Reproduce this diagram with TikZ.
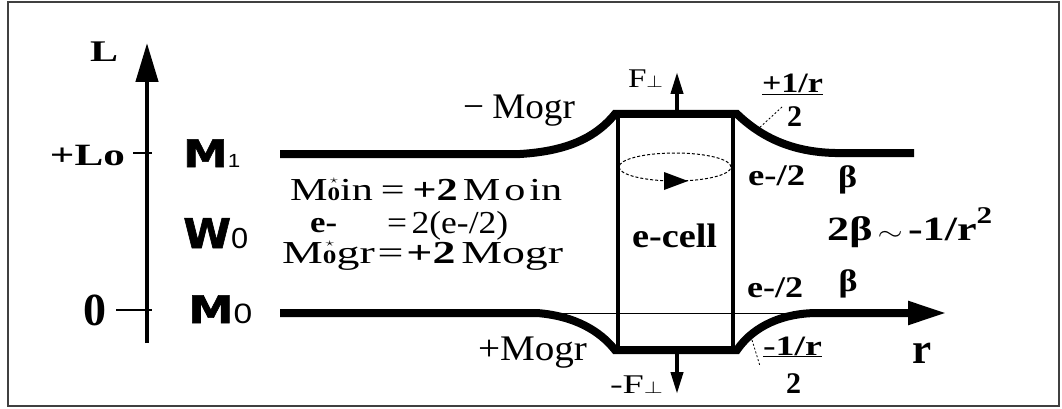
\documentclass[tikz,border=0pt]{standalone}
\usepackage{fontspec}
\usepackage{graphicx}
\setmainfont{Liberation Serif}
\newfontfamily\heavyfont{DejaVu Sans}[BoldFeatures={FakeBold=1.5}]
\newfontfamily\plainsans{Liberation Sans}
\usetikzlibrary{arrows.meta}
\newcommand{\fsz}[1]{\fontsize{#1}{#1}\selectfont}
\newcommand{\wb}[2]{\resizebox{#1pt}{\height}{#2}}
\newcommand{\starzero}{\ooalign{\hfil\raisebox{0.52em}{\fsz{13}$\star$}\hfil\cr\fsz{19}\bfseries 0\cr}}
\begin{document}
\begin{tikzpicture}[x=1pt,y=-1pt,
  txt/.style={inner sep=0pt, anchor=base},
  txtw/.style={inner sep=0pt, anchor=base west},
  level/.style={line width=8pt},
  cellwall/.style={line width=4.5pt},
  thinl/.style={line width=1pt},
  leader/.style={line width=0.8pt, dash pattern=on 2pt off 2pt},
  bigtip/.style={-{Triangle[length=39pt,width=22pt]}},
  forcetip/.style={-{Triangle[length=22pt,width=12pt]}},
]
\useasboundingbox (0,0) rectangle (1062,409);
\draw[black!75, line width=2pt] (8,2) rectangle (1059,406);

% L axis
\coordinate (Lbot) at (147,343);
\coordinate (Ltop) at (147,43);
\draw[line width=4.5pt, bigtip] (Lbot) -- (Ltop);
\coordinate (tLo) at (133,153); \coordinate (aLo) at (152,153);
\coordinate (t0) at (116,310); \coordinate (a0) at (152,310);
\draw[line width=1.5pt] (tLo) -- (aLo);
\draw[line width=1.5pt] (t0) -- (a0);

% cell
\node[draw, cellwall, minimum width=115pt, minimum height=236pt, inner sep=0pt] (cell) at (675.5,232) {};

% upper level M1
\coordinate (m1s) at (280,154);
\coordinate (m1a) at (520,154);
\coordinate (bTL) at (615,114);
\coordinate (bTR) at (737,114);
\coordinate (m1b) at (835,153);
\coordinate (m1e) at (914,153);
\draw[level] (m1s) -- (m1a) .. controls (570,151) and (597,136) .. (bTL) -- (bTR) .. controls (760,136) and (790,152) .. (m1b) -- (m1e);

% lower level M0 / r axis
\coordinate (m0s) at (280,313);
\coordinate (m0a) at (537,313);
\coordinate (bBL) at (615,350);
\coordinate (bBR) at (737,350);
\coordinate (m0b) at (815,313);
\coordinate (rtip) at (947,313);
\draw[level, bigtip] (m0s) -- (m0a) .. controls (575,316) and (600,331) .. (bBL) -- (bBR) .. controls (750,331) and (775,314) .. (m0b) -- (rtip);
\draw[thinl] (m0a) -- (m0b);

% circulation
\draw[thinl, dash pattern=on 3pt off 2pt] (675,167) ellipse [x radius=56pt, y radius=14pt];
\fill (664,172) -- (688,181) -- (664,190) -- cycle;

% forces
\coordinate (fuS) at (677,110); \coordinate (fuE) at (677,72);
\coordinate (fdS) at (677,354); \coordinate (fdE) at (677,394);
\draw[line width=4pt, forcetip] (fuS) -- (fuE);
\draw[line width=4pt, forcetip] (fdS) -- (fdE);

% leaders
\coordinate (ld1a) at (757,130); \coordinate (ld1b) at (782,107);
\coordinate (ld2a) at (752,340); \coordinate (ld2b) at (760,366);
\draw[leader] (ld1a) -- (ld1b);
\draw[leader] (ld2a) -- (ld2b);

% texts
\node[txt, font=\bfseries\fsz{30}] (lL) at (104,62) {\wb{28}{L}};
\node[txt, font=\bfseries\fsz{31}] (lLo) at (87.5,165) {\wb{75}{+Lo}};
\node[txt, font=\bfseries\fsz{46}] (l0) at (95,325) {0};
\node[txtw] (lM1) at (183,167) {\wb{57}{{\heavyfont\bfseries\fsz{38}M}{\plainsans\fsz{19}1}}};
\node[txtw] (lW0) at (183,248) {\wb{65}{{\heavyfont\bfseries\fsz{41}W}{\plainsans\fsz{29}0}}};
\node[txtw] (lM0) at (188,323) {\wb{64}{{\heavyfont\bfseries\fsz{38}M}{\plainsans\fsz{28}0}}};

\node[txtw, font=\fsz{32}] (eq1) at (290,200) {\wb{272}{M\starzero in\hspace{6pt}=\hspace{6pt}\textbf{+2}\hspace{4pt}M\hspace{3pt}o\hspace{3pt}in}};
\node[txtw, font=\bfseries\fsz{30}] (eq2a) at (310,232) {\wb{27}{e-}};
\node[txtw, font=\fsz{32}] (eq2b) at (387,233) {\wb{121}{=\hspace{4pt}2(e-/2)}};
\node[txtw, font=\fsz{32}] (eq3) at (282,263) {\wb{281}{M\starzero gr\hspace{2pt}=\hspace{2pt}\textbf{+2}\hspace{4pt}Mogr}};

\node[txt, font=\fsz{36}] (mgu) at (519,118) {\wb{112}{−\hspace{8pt}Mogr}};
\node[txt, font=\fsz{36}] (mgl) at (532.5,360) {\wb{109}{+Mogr}};
\node[txt, font=\fsz{27}] (fu) at (645.5,88) {\wb{35}{F{\fsz{18}$\perp$}}};
\node[txt, font=\fsz{27}] (fd) at (636.5,393) {\wb{53}{-F{\fsz{18}$\perp$}}};
\node[txt, font=\bfseries\fsz{34}] (ecell) at (674.5,247) {\wb{85}{e-cell}};

\node[txtw, font=\bfseries\fsz{30}] (eu) at (748,185) {\wb{57}{e-/2}};
\node[txtw, font=\bfseries\fsz{30}] (el) at (747,297) {\wb{56}{e-/2}};
\node[txt, font=\bfseries\fsz{31}] (bu) at (847.5,187) {\wb{19}{β}};
\node[txt, font=\bfseries\fsz{31}] (bl) at (848,291) {\wb{19}{β}};
\node[txtw, font=\bfseries\fsz{34}] (beta2) at (827,240) {\wb{165}{2β\hspace{4pt}{\mdseries$\sim$}\hspace{4pt}-1/r\raisebox{0.5em}{\fsz{24}2}}};

\node[txt, font=\bfseries\fsz{28}] (pu) at (792.5,93) {\wb{61}{\underline{+1/r}}};
\node[txt, font=\bfseries\fsz{30}] (pu2) at (794.5,127) {2};
\node[txt, font=\bfseries\fsz{28}] (pl) at (792.5,355) {\wb{59}{\underline{-1/r}}};
\node[txt, font=\bfseries\fsz{30}] (pl2) at (793.5,393) {2};
\node[txt, font=\bfseries\fsz{43}] (rr) at (922,363) {r};
\end{tikzpicture}
\end{document}
